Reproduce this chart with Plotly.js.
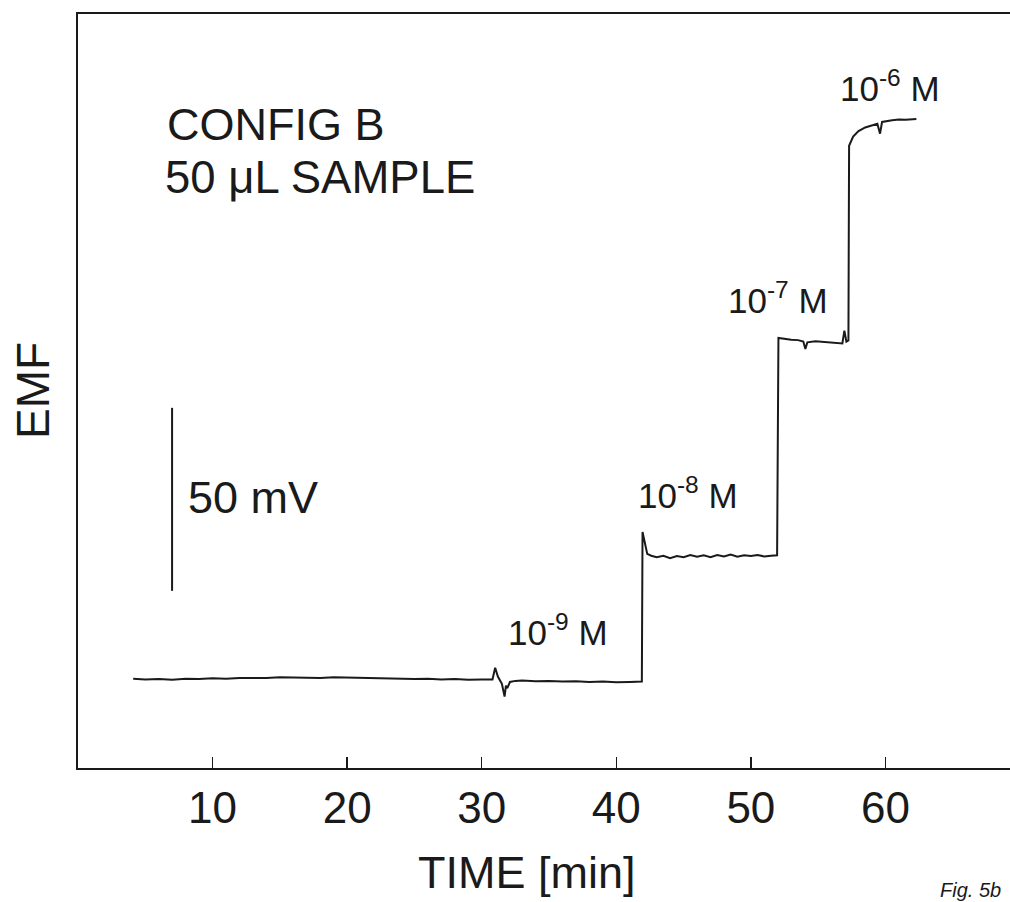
<!DOCTYPE html>
<html>
<head>
<meta charset="utf-8">
<script src="https://cdn.plot.ly/plotly-3.0.1.min.js"></script>
<style>html,body{margin:0;padding:0;background:#fff;overflow:hidden;width:1010px;height:902px;}#chart{width:1020px;height:902px;}</style>
</head>
<body>
<div id="chart"></div>
<script>
// Time in minutes, EMF in mV (relative)
const timeMin = [
  4.1, 5, 6, 7, 8, 9, 10, 11, 12, 13, 14, 15, 16, 17, 18, 19, 20, 21, 22, 23, 24, 25, 26, 27, 28, 29, 30, 30.8,
  31.0, 31.2, 31.5, 31.7, 31.8, 31.9, 32.1, 32.5, 33, 34, 35, 36, 37, 38, 39, 40, 41, 41.9,
  41.95, 42.1, 42.3, 42.6, 43, 43.5, 44, 44.5, 45, 45.5, 46, 46.5, 47, 47.5, 48, 48.5, 49, 49.5, 50, 50.5, 51, 51.5, 51.95,
  52.05, 52.5, 53, 53.5, 53.9, 54.05, 54.2, 54.8, 55.5, 56.2, 56.8, 56.95, 57.1, 57.25,
  57.3, 57.6, 58, 58.5, 59, 59.4, 59.6, 59.75, 60.5, 61, 61.5, 62.3
];
const emfMv = [
  24.4, 24.2, 24.3, 24.1, 24.4, 24.3, 24.5, 24.4, 24.6, 24.5, 24.6, 24.8, 24.7, 24.8, 24.6, 24.8, 24.7, 24.6, 24.5, 24.6, 24.4, 24.3, 24.4, 24.2, 24.3, 24.1, 24.2, 24.2,
  27.4, 25.0, 23.0, 19.5, 22.5, 21.8, 23.5, 23.8, 23.9, 23.7, 23.8, 23.6, 23.7, 23.5, 23.6, 23.4, 23.5, 23.6,
  64.5, 62.0, 58.5, 58.0, 57.6, 58.0, 57.3, 57.9, 57.6, 58.2, 57.7, 58.1, 57.6, 58.2, 57.8, 58.3, 57.7, 58.1, 57.9, 58.2, 57.8, 58.0, 58.1,
  117.5, 117.2, 117.0, 116.9, 116.5, 114.5, 116.3, 116.6, 116.4, 116.3, 116.0, 119.5, 116.5, 116.8,
  170.0, 172.5, 174.0, 175.0, 175.5, 176.0, 173.3, 176.5, 177.0, 177.2, 177.1, 177.3
];
// 50 mV scale bar
const scaleBarTime = [6.99, 6.99];
const scaleBarMv = [48.4, 98.4];
// concentration labels
const concLabels = ["10<sup>-9</sup> M", "10<sup>-8</sup> M", "10<sup>-7</sup> M", "10<sup>-6</sup> M"];
const concLabelTime = [35.67, 45.33, 52.02, 60.34];
const concLabelMv = [37.6, 75.0, 128.4, 186.3];
const xTicks = [10, 20, 30, 40, 50, 60];

const ink = '#1a1a1a';
const font = 'Liberation Sans, Arial, Helvetica, sans-serif';

const traces = [
  {x: timeMin, y: emfMv, mode: 'lines', line: {color: ink, width: 2}, hoverinfo: 'skip'},
  {x: scaleBarTime, y: scaleBarMv, mode: 'lines', line: {color: ink, width: 2}, hoverinfo: 'skip'}
];

const annotations = concLabels.map((t, i) => ({
  x: concLabelTime[i], y: concLabelMv[i], xref: 'x', yref: 'y', text: t, showarrow: false,
  font: {family: font, size: 35, color: ink}, xanchor: 'center', yanchor: 'middle'
}));
annotations.push(
  {x: 6.47, y: 175.9, xref: 'x', yref: 'y', text: 'CONFIG B', showarrow: false,
   xanchor: 'left', yanchor: 'middle', font: {family: font, size: 45, color: ink}},
  {x: 6.3, y: 161.4, xref: 'x', yref: 'y', text: '50 μL SAMPLE', showarrow: false,
   xanchor: 'left', yanchor: 'middle', font: {family: font, size: 45.5, color: ink}},
  {x: 8.0, y: 74.0, xref: 'x', yref: 'y', text: '50 mV', showarrow: false, xanchor: 'left', yanchor: 'middle',
   font: {family: font, size: 45, color: ink}},
  {px: 33, py: 391, xref: 'paper', yref: 'paper', text: 'EMF', showarrow: false, textangle: -90,
   xanchor: 'center', yanchor: 'middle', font: {family: font, size: 46, color: ink}},
  {px: 527, py: 873, xref: 'paper', yref: 'paper', text: 'TIME [min]', showarrow: false,
   xanchor: 'center', yanchor: 'middle', font: {family: font, size: 45, color: ink}},
  {px: 970, py: 890, xref: 'paper', yref: 'paper', text: '<i>Fig. 5b</i>', showarrow: false,
   xanchor: 'center', yanchor: 'middle', font: {family: font, size: 20, color: ink}}
);
// convert pixel-placed paper annotations
const W = 1020, H = 902, L = 78, R = 0, T = 14, B = 134;
annotations.forEach(a => {
  if (a.px !== undefined) {
    a.x = (a.px - L) / (W - L - R);
    a.y = (H - B - a.py) / (H - T - B);
    delete a.px; delete a.py;
  }
});

const layout = {
  width: W, height: H,
  margin: {l: L, r: R, t: T, b: B},
  paper_bgcolor: '#fff', plot_bgcolor: '#fff',
  showlegend: false,
  xaxis: {
    range: [0, 70.0], tickvals: xTicks, ticktext: xTicks.map(String),
    ticks: 'inside', ticklen: 11, tickwidth: 1.5, tickcolor: ink,
    showline: true, mirror: true, linecolor: ink, linewidth: 2,
    showgrid: false, zeroline: false,
    tickfont: {family: font, size: 44, color: ink}
  },
  yaxis: {
    range: [0, 206], showticklabels: false, ticks: '',
    showline: true, mirror: false, linecolor: ink, linewidth: 2,
    showgrid: false, zeroline: false
  },
  annotations: annotations
};
Plotly.newPlot('chart', traces, layout, {staticPlot: true, displayModeBar: false});
</script>
</body>
</html>
